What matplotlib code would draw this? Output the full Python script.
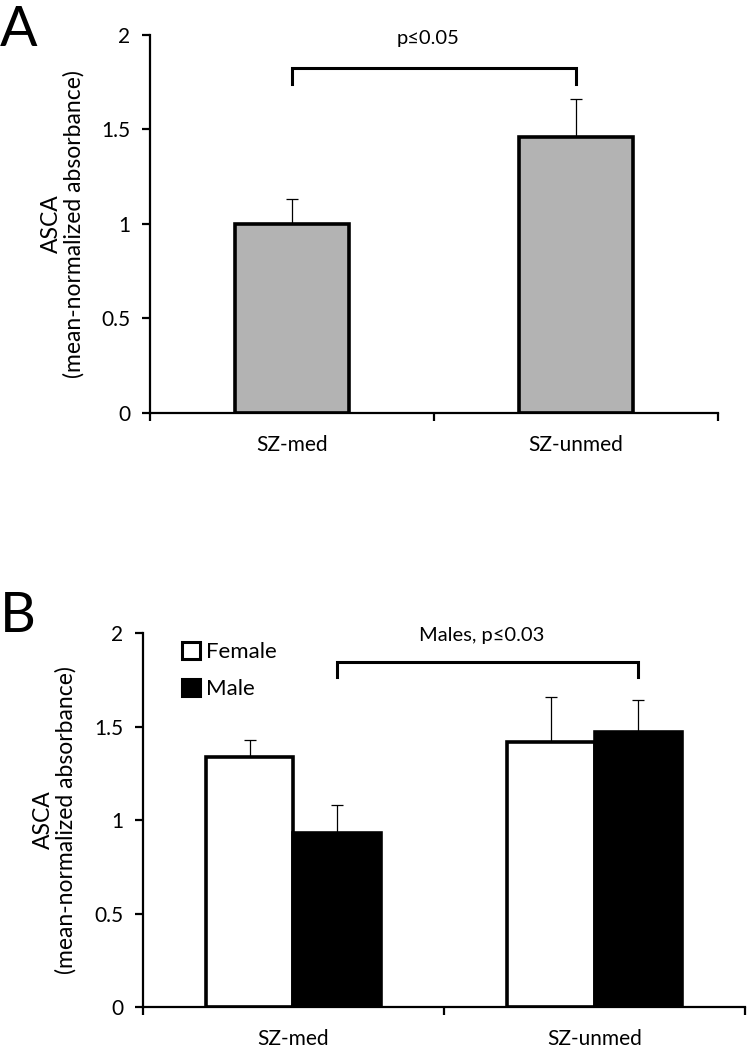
import matplotlib.pyplot as plt
from matplotlib.patches import Patch
import numpy as np

# -------------------------- Data --------------------------
categories = ['SZ-med', 'SZ-unmed']

# Panel A: all subjects
all_mean = [1.00, 1.46]
all_err = [0.13, 0.20]

# Panel B: split by sex
female_mean = [1.34, 1.42]
female_err = [0.09, 0.24]
male_mean = [0.93, 1.47]
male_err = [0.15, 0.17]

ylabel = 'ASCA\n(mean-normalized absorbance)'

# -------------------------- Style --------------------------
plt.rcParams['font.family'] = ['Lato', 'DejaVu Sans']
plt.rcParams['font.size'] = 15

fig = plt.figure(figsize=(7.47, 10.5), dpi=100)
ax_a = fig.add_axes([0.2008, 0.6067, 0.760, 0.360])
ax_b = fig.add_axes([0.1914, 0.0410, 0.806, 0.356])

x = np.arange(len(categories))


def style_axis(ax):
    ax.set_xlim(-0.5, 1.5)
    ax.set_ylim(0, 2)
    ax.set_yticks([0, 0.5, 1, 1.5, 2])
    ax.set_yticklabels(['0', '0.5', '1', '1.5', '2'])
    ax.spines['top'].set_visible(False)
    ax.spines['right'].set_visible(False)
    ax.spines['left'].set_linewidth(1.6)
    ax.spines['bottom'].set_linewidth(1.6)
    ax.tick_params(axis='y', direction='out', length=6, width=1.6, pad=8)
    # category labels without tick marks, boundaries with tick marks
    ax.set_xticks(x)
    ax.set_xticklabels(categories)
    ax.tick_params(axis='x', which='major', length=0, pad=16)
    ax.set_xticks([-0.5, 0.5, 1.5], minor=True)
    ax.tick_params(axis='x', which='minor', direction='out', length=6, width=1.6)
    ax.set_ylabel(ylabel, multialignment='center', fontsize=16.5, linespacing=1.1)


def bracket(ax, x0, x1, y_low, y_high, text, ty):
    ax.plot([x0, x0, x1, x1], [y_low, y_high, y_high, y_low], color='black',
            linewidth=2.2, clip_on=False, solid_joinstyle='miter')
    ax.text((x0 + x1) / 2 - 0.02, ty, text, ha='center', va='center',
            fontsize=14.5, clip_on=False)


# -------------------------- Panel A --------------------------
ax_a.errorbar(x, all_mean, yerr=[np.zeros(len(x)), all_err], fmt='none',
              ecolor='black', elinewidth=0.9, capsize=4, capthick=0.9, zorder=1)
ax_a.bar(x, all_mean, width=0.40, color='#b3b3b3', edgecolor='black',
         linewidth=2.6, zorder=2)
style_axis(ax_a)
ax_a.yaxis.set_label_coords(-0.115, 0.5)
bracket(ax_a, 0.0, 1.0, 1.74, 1.825, 'p\u22640.05', 1.98)

# -------------------------- Panel B --------------------------
w = 0.29
ax_b.errorbar(x - w / 2, female_mean, yerr=[np.zeros(len(x)), female_err], fmt='none',
              ecolor='black', elinewidth=0.9, capsize=4, capthick=0.9, zorder=1)
ax_b.errorbar(x + w / 2, male_mean, yerr=[np.zeros(len(x)), male_err], fmt='none',
              ecolor='black', elinewidth=0.9, capsize=4, capthick=0.9, zorder=1)
ax_b.bar(x - w / 2, female_mean, width=w, color='white', edgecolor='black',
         linewidth=2.6, zorder=2, label='Female')
ax_b.bar(x + w / 2, male_mean, width=w, color='black', edgecolor='black',
         linewidth=2.6, zorder=2, label='Male')
style_axis(ax_b)
ax_b.yaxis.set_label_coords(-0.11, 0.5)
bracket(ax_b, 0.145, 1.145, 1.765, 1.845, 'Males, p\u22640.03', 1.99)

handles = [Patch(facecolor='white', edgecolor='black', linewidth=2.2, label='Female'),
           Patch(facecolor='black', edgecolor='black', linewidth=2.2, label='Male')]
ax_b.legend(handles=handles, loc='upper left', bbox_to_anchor=(0.05, 1.0),
            frameon=False, handlelength=0.8, handleheight=0.8, handletextpad=0.3,
            labelspacing=0.75, fontsize=16, borderaxespad=0)

# Panel letters
fig.text(0.0, 0.995, 'A', fontsize=40, ha='left', va='top')
fig.text(0.0, 0.437, 'B', fontsize=40, ha='left', va='top')

plt.savefig('out.png', dpi=100)
